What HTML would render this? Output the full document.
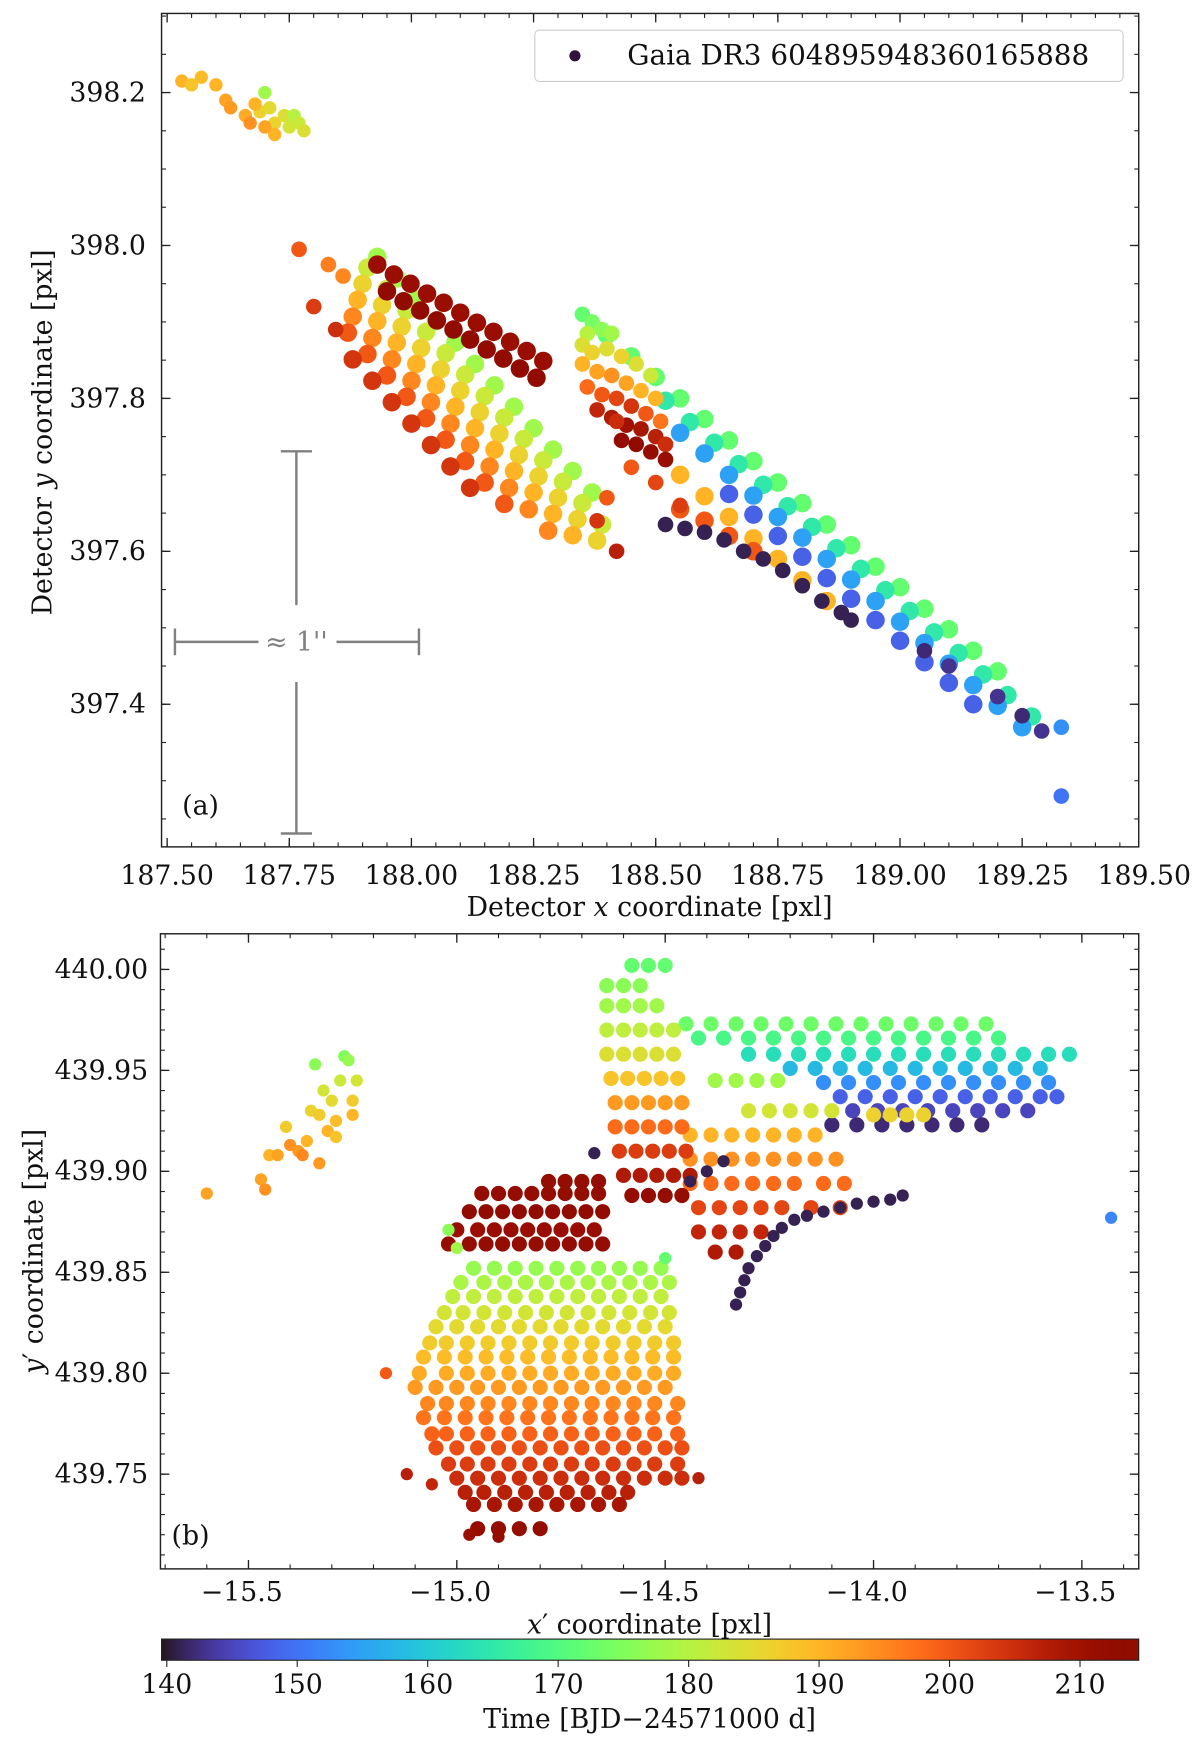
<!DOCTYPE html>
<html><head><meta charset="utf-8"><style>
html,body{margin:0;padding:0;background:#fff;}
svg{display:block;font-family:"DejaVu Serif","Liberation Serif",serif;}
</style></head><body>
<svg id="fig" width="1200" height="1745" viewBox="0 0 1077 1566" xmlns="http://www.w3.org/2000/svg">
<defs>
<clipPath id="clipA"><rect x="145" y="12" width="877" height="748"/></clipPath>
<clipPath id="clipB"><rect x="144" y="838" width="878" height="570"/></clipPath>
<linearGradient id="turboGrad" x1="0" x2="1" y1="0" y2="0"></linearGradient>
</defs>
<rect x="0" y="0" width="1077" height="1566" fill="#fff"/>
<g id="panelA"></g>
<g id="panelB"></g>
<g id="cbar"></g>
</svg>
<script>
// ---------- colour scale ----------
const cbarTicks = [140,150,160,170,180,190,200,210];
const tMin = 139.6, tMax = 214.5;

// ---------- panel (a) data ----------
const aTopCluster = [[187.53,398.215,190],[187.55,398.21,188],[187.57,398.22,189],[187.6,398.21,190],[187.62,398.19,192],[187.63,398.18,193],[187.66,398.17,191],[187.67,398.16,194],[187.69,398.175,186],[187.7,398.2,178],[187.71,398.18,185],[187.72,398.16,186],[187.72,398.145,190],[187.74,398.17,184],[187.75,398.155,183],[187.76,398.17,180],[187.77,398.16,182],[187.78,398.15,184],[187.7,398.155,192],[187.68,398.185,190]];
const aRowT = [178,182,186,190,195,200,204, 211,213, 172,165,155,148,190,200];
const aRowX = [
 [187.93,187.97,188.01,188.05,188.09,188.13,188.17,188.21,188.25,188.29,188.33,188.37],
 [187.91,187.95,187.99,188.03,188.07,188.11,188.15,188.19,188.23,188.27,188.31,188.35,188.39],
 [187.90,187.94,187.98,188.02,188.06,188.10,188.14,188.18,188.22,188.26,188.30,188.34,188.38],
 [187.89,187.93,187.97,188.01,188.05,188.09,188.13,188.17,188.21,188.25,188.29,188.33],
 [187.88,187.92,187.96,188.00,188.04,188.08,188.12,188.16,188.20,188.24,188.28],
 [187.87,187.91,187.95,187.99,188.03,188.07,188.11,188.15,188.19],
 [187.88,187.92,187.96,188.00,188.04,188.08,188.12],
 [187.93,187.964,187.998,188.032,188.066,188.10,188.134,188.168,188.202,188.236,188.27],
 [187.95,187.984,188.018,188.052,188.086,188.12,188.154,188.188,188.222,188.256],
 [188.40,188.45,188.50,188.55,188.60,188.65,188.70,188.75,188.80,188.85,188.90,188.95,189.00,189.05,189.10,189.15,189.20],
 [188.52,188.57,188.62,188.67,188.72,188.77,188.82,188.87,188.92,188.97,189.02,189.07,189.12,189.17,189.22,189.27],
 [188.55,188.60,188.65,188.70,188.75,188.80,188.85,188.90,188.95,189.00,189.05,189.10,189.15,189.20,189.25],
 [188.65,188.70,188.75,188.80,188.85,188.90,188.95,189.00,189.05,189.10,189.15],
 [188.55,188.60,188.65,188.70,188.75,188.80,188.85],
 [188.55,188.60,188.65,188.70]
];
const aRowY = [
 [397.985,397.957,397.929,397.901,397.873,397.845,397.817,397.789,397.761,397.733,397.705,397.677],
 [397.971,397.943,397.915,397.887,397.859,397.831,397.803,397.775,397.747,397.719,397.691,397.663,397.635],
 [397.950,397.922,397.894,397.866,397.838,397.810,397.782,397.754,397.726,397.698,397.670,397.642,397.614],
 [397.929,397.901,397.873,397.845,397.817,397.789,397.761,397.733,397.705,397.677,397.649,397.621],
 [397.907,397.879,397.851,397.823,397.795,397.767,397.739,397.711,397.683,397.655,397.627],
 [397.886,397.858,397.830,397.802,397.774,397.746,397.718,397.690,397.662],
 [397.851,397.823,397.795,397.767,397.739,397.711,397.683],
 [397.975,397.962,397.950,397.937,397.925,397.912,397.899,397.887,397.874,397.862,397.849],
 [397.940,397.927,397.915,397.902,397.890,397.877,397.864,397.852,397.839,397.827],
 [397.883,397.855,397.828,397.800,397.773,397.745,397.718,397.690,397.663,397.635,397.608,397.580,397.553,397.525,397.498,397.470,397.443],
 [397.797,397.769,397.742,397.714,397.687,397.659,397.632,397.604,397.577,397.549,397.522,397.494,397.467,397.439,397.412,397.384],
 [397.755,397.728,397.700,397.673,397.645,397.618,397.590,397.563,397.535,397.508,397.480,397.453,397.425,397.398,397.370],
 [397.675,397.648,397.620,397.593,397.565,397.538,397.510,397.483,397.455,397.428,397.400],
 [397.700,397.672,397.645,397.617,397.590,397.562,397.535],
 [397.655,397.640,397.620,397.600]
];
const aExtra = [[187.77,397.995,200],[187.8,397.92,203],[187.83,397.975,196],[187.845,397.89,205],[187.86,397.96,195],[188.42,397.60,207],[188.38,397.64,204],[188.4,397.67,200],
 [188.35,397.91,172],[188.37,397.9,174],[188.39,397.89,176],[188.41,397.885,178],[188.36,397.885,180],
 [188.35,397.87,184],[188.37,397.86,186],[188.4,397.865,184],[188.43,397.855,186],[188.46,397.845,184],[188.49,397.83,182],
 [188.35,397.845,190],[188.38,397.835,192],[188.41,397.83,194],[188.44,397.82,192],[188.47,397.81,190],[188.5,397.8,190],
 [188.36,397.815,198],[188.39,397.805,200],[188.42,397.8,202],[188.45,397.79,204],[188.48,397.78,200],[188.51,397.77,197],
 [188.38,397.785,206],[188.41,397.775,208],[188.44,397.765,210],[188.47,397.76,209],[188.5,397.75,207],[188.52,397.74,205],
 [188.43,397.745,212],[188.46,397.74,213],[188.49,397.73,212],[188.52,397.72,211],
 [188.42,397.77,205],[188.45,397.71,200],[188.5,397.69,202],[188.55,397.66,203],
 [188.52,397.635,141],[188.56,397.63,141],[188.6,397.625,141],[188.64,397.615,141],[188.68,397.6,141],[188.72,397.59,141],[188.76,397.575,141],[188.8,397.555,141],[188.84,397.535,141],[188.88,397.52,141],[188.9,397.51,141],
 [189.05,397.47,142],[189.1,397.45,143],[189.2,397.41,143],[189.25,397.385,142],[189.29,397.365,143],
 [189.33,397.28,150],[189.33,397.37,153]];

// ---------- panel (b) data ----------
const bRowY = [439.852,439.845,439.838,439.830,439.823,439.815,439.808,439.800,439.793,439.785,439.778,439.770,439.763,439.755,439.748,439.741,439.735,439.723,
 439.895,439.889,439.880,439.871,439.864,
 439.973,439.966,439.958,439.951,439.944,439.937,439.930,439.923,439.945,439.930,439.928,
 439.918,439.906,439.894,439.882,439.870,439.860,
 440.002,439.992,439.982,439.970,439.958,439.946,439.934,439.922,439.910,439.898,439.888];
const bRowT = [177,179,181,183,185,187,189,191,193,195,197,199,201,203,205,207,209,212,
 212,212,213,211,212,
 173,169,163,158,153,148,145,142,178,183,186,
 190,194,198,202,206,208,
 172,176,178,181,184,188,193,198,203,208,212];
const bRowX = [
 [-14.96,-14.91,-14.86,-14.81,-14.76,-14.71,-14.66,-14.61,-14.56,-14.51],
 [-14.99,-14.935,-14.885,-14.835,-14.785,-14.735,-14.685,-14.635,-14.585,-14.535,-14.49],
 [-15.01,-14.96,-14.91,-14.86,-14.81,-14.76,-14.71,-14.66,-14.61,-14.56,-14.51],
 [-15.03,-14.985,-14.935,-14.885,-14.835,-14.785,-14.735,-14.685,-14.635,-14.585,-14.535,-14.49],
 [-15.05,-15.0,-14.95,-14.9,-14.85,-14.8,-14.75,-14.7,-14.65,-14.6,-14.55,-14.5],
 [-15.065,-15.025,-14.975,-14.925,-14.875,-14.825,-14.775,-14.725,-14.675,-14.625,-14.575,-14.525,-14.48],
 [-15.08,-15.03,-14.98,-14.93,-14.88,-14.83,-14.78,-14.73,-14.68,-14.63,-14.58,-14.53,-14.48],
 [-15.09,-15.025,-14.975,-14.925,-14.875,-14.825,-14.775,-14.725,-14.675,-14.625,-14.575,-14.525,-14.48],
 [-15.1,-15.05,-15.0,-14.95,-14.9,-14.85,-14.8,-14.75,-14.7,-14.65,-14.6,-14.55,-14.5],
 [-15.07,-15.025,-14.975,-14.925,-14.875,-14.825,-14.775,-14.725,-14.675,-14.625,-14.575,-14.525,-14.47],
 [-15.08,-15.03,-14.98,-14.93,-14.88,-14.83,-14.78,-14.73,-14.68,-14.63,-14.58,-14.53,-14.48],
 [-15.06,-15.025,-14.975,-14.925,-14.875,-14.825,-14.775,-14.725,-14.675,-14.625,-14.575,-14.525,-14.47],
 [-15.05,-15.0,-14.95,-14.9,-14.85,-14.8,-14.75,-14.7,-14.65,-14.6,-14.55,-14.5,-14.46],
 [-15.02,-14.975,-14.925,-14.875,-14.825,-14.775,-14.725,-14.675,-14.625,-14.575,-14.525,-14.47],
 [-15.0,-14.95,-14.9,-14.85,-14.8,-14.75,-14.7,-14.65,-14.6,-14.55,-14.5,-14.46],
 [-14.98,-14.935,-14.885,-14.835,-14.785,-14.735,-14.685,-14.635,-14.59],
 [-14.96,-14.91,-14.86,-14.81,-14.76,-14.71,-14.66,-14.61],
 [-14.95,-14.9,-14.85,-14.8],
 [-14.78,-14.74,-14.7,-14.66],
 [-14.94,-14.9,-14.86,-14.82,-14.78,-14.74,-14.7,-14.66],
 [-14.97,-14.93,-14.89,-14.85,-14.81,-14.77,-14.73,-14.69,-14.65],
 [-15.0,-14.95,-14.91,-14.87,-14.83,-14.79,-14.75,-14.71,-14.67],
 [-15.02,-14.97,-14.93,-14.89,-14.85,-14.81,-14.77,-14.73,-14.69,-14.65],
 [-14.45,-14.39,-14.33,-14.27,-14.21,-14.15,-14.09,-14.03,-13.97,-13.91,-13.85,-13.79,-13.73],
 [-14.42,-14.36,-14.3,-14.24,-14.18,-14.12,-14.06,-14.0,-13.94,-13.88,-13.82,-13.76,-13.7],
 [-14.3,-14.24,-14.18,-14.12,-14.06,-14.0,-13.94,-13.88,-13.82,-13.76,-13.7,-13.64,-13.58,-13.53],
 [-14.2,-14.14,-14.08,-14.02,-13.96,-13.9,-13.84,-13.78,-13.72,-13.66,-13.6],
 [-14.12,-14.06,-14.0,-13.94,-13.88,-13.82,-13.76,-13.7,-13.64,-13.58],
 [-14.08,-14.02,-13.96,-13.9,-13.84,-13.78,-13.72,-13.66,-13.6,-13.56],
 [-14.05,-13.99,-13.93,-13.87,-13.81,-13.75,-13.69,-13.63],
 [-14.1,-14.04,-13.98,-13.92,-13.86,-13.8,-13.74],
 [-14.38,-14.33,-14.28,-14.23],
 [-14.3,-14.25,-14.2,-14.15,-14.1],
 [-14.0,-13.96,-13.92,-13.88],
 [-14.44,-14.39,-14.34,-14.29,-14.24,-14.19,-14.14],
 [-14.44,-14.39,-14.34,-14.29,-14.24,-14.19,-14.14,-14.09],
 [-14.44,-14.39,-14.34,-14.29,-14.24,-14.19,-14.12,-14.07],
 [-14.42,-14.37,-14.32,-14.27,-14.22,-14.15,-14.08],
 [-14.42,-14.37,-14.32,-14.27],
 [-14.38,-14.33],
 [-14.58,-14.54,-14.5],
 [-14.64,-14.6,-14.56],
 [-14.64,-14.6,-14.56,-14.52],
 [-14.64,-14.6,-14.56,-14.52,-14.48],
 [-14.64,-14.6,-14.56,-14.52,-14.48],
 [-14.63,-14.59,-14.55,-14.51,-14.47],
 [-14.62,-14.58,-14.54,-14.5,-14.46],
 [-14.62,-14.58,-14.54,-14.5,-14.46],
 [-14.61,-14.57,-14.53,-14.49,-14.45],
 [-14.6,-14.56,-14.52,-14.48,-14.44],
 [-14.58,-14.54,-14.5,-14.46]
];
const bExtra = [[-15.6,439.889,192],[-15.47,439.896,192],[-15.46,439.891,194],[-15.45,439.908,190],[-15.43,439.908,192],[-15.41,439.922,187],[-15.40,439.913,194],[-15.38,439.910,193],[-15.37,439.908,195],[-15.36,439.915,190],[-15.35,439.930,186],[-15.34,439.953,176],[-15.33,439.928,187],[-15.32,439.940,183],[-15.31,439.920,190],[-15.30,439.935,185],[-15.29,439.925,189],[-15.28,439.945,182],[-15.27,439.957,175],[-15.26,439.955,177],[-15.25,439.935,187],[-15.24,439.945,183],[-15.25,439.928,190],[-15.33,439.904,193],[-15.29,439.917,188],
 [-15.02,439.871,176],[-15.0,439.862,178],[-14.5,439.857,172],[-15.17,439.80,200],[-15.12,439.75,207],[-15.06,439.745,206],[-14.97,439.72,211],[-14.9,439.719,212],[-14.42,439.748,207],
 [-14.33,439.834,141],[-14.32,439.840,141],[-14.31,439.846,141],[-14.3,439.852,141],[-14.28,439.858,141],[-14.26,439.863,141],[-14.24,439.868,141],[-14.22,439.872,141],[-14.19,439.876,141],[-14.16,439.878,141],[-14.12,439.880,141],[-14.08,439.882,141],[-14.04,439.884,141],[-14.0,439.885,141],[-13.96,439.886,141],[-13.93,439.888,141],
 [-14.44,439.895,141],[-14.4,439.9,141],[-14.36,439.905,141],[-14.67,439.909,141],[-13.43,439.877,152]];

// ---------- tick labels ----------
const aXTicks = [187.50,187.75,188.00,188.25,188.50,188.75,189.00,189.25,189.50];
const aYTicks = [397.4,397.6,397.8,398.0,398.2];
const bXTicks = [-15.5,-15.0,-14.5,-14.0,-13.5];
const bYTicks = [439.75,439.80,439.85,439.90,439.95,440.00];

const NS = "http://www.w3.org/2000/svg";
function mk(tag, attrs, parent){const e=document.createElementNS(NS,tag);for(const k in attrs)e.setAttribute(k,attrs[k]);if(parent)parent.appendChild(e);return e;}
function turbo(t){
  let x=(t-tMin)/(tMax-tMin); x=Math.max(0,Math.min(1,x));
  const r=0.13572138+x*(4.61539260+x*(-42.66032258+x*(132.13108234+x*(-152.94239396+x*59.28637943))));
  const g=0.09140261+x*(2.19418839+x*(4.84296658+x*(-14.18503333+x*(4.27729857+x*2.82956604))));
  const b=0.10667330+x*(12.64194608+x*(-60.58204836+x*(110.36276771+x*(-89.90310912+x*27.34824973))));
  const c=v=>Math.round(255*Math.max(0,Math.min(1,v)));
  return `rgb(${c(r)},${c(g)},${c(b)})`;
}
const A={l:145,r:1022,t:12,b:760};
const axA = v=>150+(v-187.5)*438.5;
const ayA = v=>83+(398.2-v)*686.25;
const B={l:144,r:1022,t:838,b:1408};
const axB = v=>223+(v+15.5)*374;
const ayB = v=>870+(440.0-v)*1812;

function dot(g,x,y,t,r){
  const c=mk('circle',{cx:x.toFixed(1),cy:y.toFixed(1),r:r,fill:turbo(t)},g);
  
  
}
function ticks(g,P,xs,ys,xmaj,xmin,ymaj,ymin){
  const s='#222';
  xmin.forEach(v=>{const x=xs(v);if(x<P.l-0.5||x>P.r+0.5)return;mk('line',{x1:x,x2:x,y1:P.b,y2:P.b-4,stroke:s,'stroke-width':1},g);mk('line',{x1:x,x2:x,y1:P.t,y2:P.t+4,stroke:s,'stroke-width':1},g);});
  xmaj.forEach(v=>{const x=xs(v);if(x<P.l-0.5||x>P.r+0.5)return;mk('line',{x1:x,x2:x,y1:P.b,y2:P.b-8,stroke:s,'stroke-width':1.2},g);mk('line',{x1:x,x2:x,y1:P.t,y2:P.t+8,stroke:s,'stroke-width':1.2},g);});
  ymin.forEach(v=>{const y=ys(v);if(y<P.t||y>P.b)return;mk('line',{x1:P.l,x2:P.l+4,y1:y,y2:y,stroke:s,'stroke-width':1},g);mk('line',{x1:P.r,x2:P.r-4,y1:y,y2:y,stroke:s,'stroke-width':1},g);});
  ymaj.forEach(v=>{const y=ys(v);if(y<P.t||y>P.b)return;mk('line',{x1:P.l,x2:P.l+8,y1:y,y2:y,stroke:s,'stroke-width':1.2},g);mk('line',{x1:P.r,x2:P.r-8,y1:y,y2:y,stroke:s,'stroke-width':1.2},g);});
}
function range(a,b,st){const o=[];for(let v=a;v<=b+1e-9;v+=st)o.push(+v.toFixed(4));return o;}

// ---------- Panel A ----------
(function(){
  const g=document.getElementById('panelA');
  const pts=mk('g',{'clip-path':'url(#clipA)'},g);
  
  
  const R=8.3;
  aTopCluster.forEach(p=>dot(pts,axA(p[0]),ayA(p[1]),p[2],6));
  aRowX.forEach((xs,i)=>xs.forEach((x,j)=>dot(pts,axA(x),ayA(aRowY[i][j]),aRowT[i],R)));
  aExtra.forEach(p=>dot(pts,axA(p[0]),ayA(p[1]),p[2],7));
  const fr=mk('rect',{x:A.l,y:A.t,width:A.r-A.l,height:A.b-A.t,fill:'none',stroke:'#222','stroke-width':1.3},g);
  
  ticks(g,A,axA,ayA,aXTicks,range(187.45,189.5,0.05),aYTicks,range(397.25,398.3,0.05));
  aXTicks.forEach(v=>{const t=mk('text',{x:axA(v),y:794,'font-size':24,'text-anchor':'middle',fill:'#111'},g);t.textContent=v.toFixed(2);});
  aYTicks.forEach(v=>{const t=mk('text',{x:131,y:ayA(v)+8,'font-size':24,'text-anchor':'end',fill:'#111'},g);t.textContent=v.toFixed(1);});
})();

// ---------- Panel B ----------
(function(){
  const g=document.getElementById('panelB');
  const pts=mk('g',{'clip-path':'url(#clipB)'},g);
  
  
  bRowX.forEach((xs,i)=>xs.forEach(x=>dot(pts,axB(x),ayB(bRowY[i]),bRowT[i],6.8)));
  bExtra.forEach(p=>dot(pts,axB(p[0]),ayB(p[1]),p[2],5.5));
  const fr=mk('rect',{x:B.l,y:B.t,width:B.r-B.l,height:B.b-B.t,fill:'none',stroke:'#222','stroke-width':1.3},g);
  
  ticks(g,B,axB,ayB,bXTicks,range(-15.7,-13.3,0.1),bYTicks,range(439.70,440.02,0.01));
  bXTicks.forEach(v=>{const t=mk('text',{x:axB(v)-6,y:1437,'font-size':24,'text-anchor':'middle',fill:'#111'},g);t.textContent='\u2212'+Math.abs(v).toFixed(1);});
  bYTicks.forEach(v=>{const t=mk('text',{x:133,y:ayB(v)+8,'font-size':24,'text-anchor':'end',fill:'#111'},g);t.textContent=v.toFixed(2);});
})();

// ---------- Colorbar ----------
(function(){
  const grad=document.getElementById('turboGrad');
  for(let i=0;i<=40;i++){const t=tMin+(tMax-tMin)*i/40;mk('stop',{offset:(i/40*100)+'%','stop-color':turbo(t)},grad);}
  const g=document.getElementById('cbar');
  const r=mk('rect',{x:145,y:1471,width:877,height:19,fill:'url(#turboGrad)',stroke:'#222','stroke-width':1},g);
  
  const cx=v=>145+(v-tMin)/(tMax-tMin)*877;
  cbarTicks.forEach(v=>{
    mk('line',{x1:cx(v),x2:cx(v),y1:1490,y2:1496,stroke:'#222','stroke-width':1},g);
    const t=mk('text',{x:cx(v),y:1520,'font-size':24,'text-anchor':'middle',fill:'#111'},g);t.textContent=v;
    
  });
})();
</script>
<script>
(function(){
  const svg=document.getElementById('fig');
  svg.insertAdjacentHTML('beforeend',`
  <g>
    <rect x="480" y="27" width="528" height="46" rx="4" fill="#fff" fill-opacity="0.85" stroke="#ccc" stroke-width="1"/>
    <circle cx="516" cy="50" r="5" fill="#30123b"/>
    <text x="563" y="58" font-size="25" fill="#111">Gaia DR3 604895948360165888</text>
  </g>
  <g stroke="#808080" stroke-width="2.2" fill="none">
    <line x1="266" y1="405" x2="266" y2="543"/><line x1="266" y1="612" x2="266" y2="748"/>
    <line x1="252" y1="405" x2="280" y2="405"/><line x1="252" y1="748" x2="280" y2="748"/>
    <line x1="157" y1="576" x2="232" y2="576"/><line x1="302" y1="576" x2="376" y2="576"/>
    <line x1="157" y1="564" x2="157" y2="588"/><line x1="376" y1="564" x2="376" y2="588"/>
  </g>
  <text x="266" y="584" font-size="24" fill="#808080" text-anchor="middle">≈ 1''</text>
  <text x="180" y="731" font-size="24" fill="#111" text-anchor="middle">(a)</text>
  <text x="171" y="1386" font-size="24" fill="#111" text-anchor="middle">(b)</text>
  <text x="583" y="822" font-size="24" fill="#111" text-anchor="middle">Detector <tspan font-style="italic">x</tspan> coordinate [pxl]</text>
  <text transform="translate(46,388) rotate(-90)" font-size="24" fill="#111" text-anchor="middle">Detector <tspan font-style="italic">y</tspan> coordinate [pxl]</text>
  <text x="583" y="1466" font-size="24" fill="#111" text-anchor="middle"><tspan font-style="italic">x</tspan>′ coordinate [pxl]</text>
  <text transform="translate(38,1123) rotate(-90)" font-size="24" fill="#111" text-anchor="middle"><tspan font-style="italic">y</tspan>′ coordinate [pxl]</text>
  <text x="583" y="1551" font-size="24" fill="#111" text-anchor="middle">Time [BJD−24571000 d]</text>
  `);
})();
</script>
</body></html>
